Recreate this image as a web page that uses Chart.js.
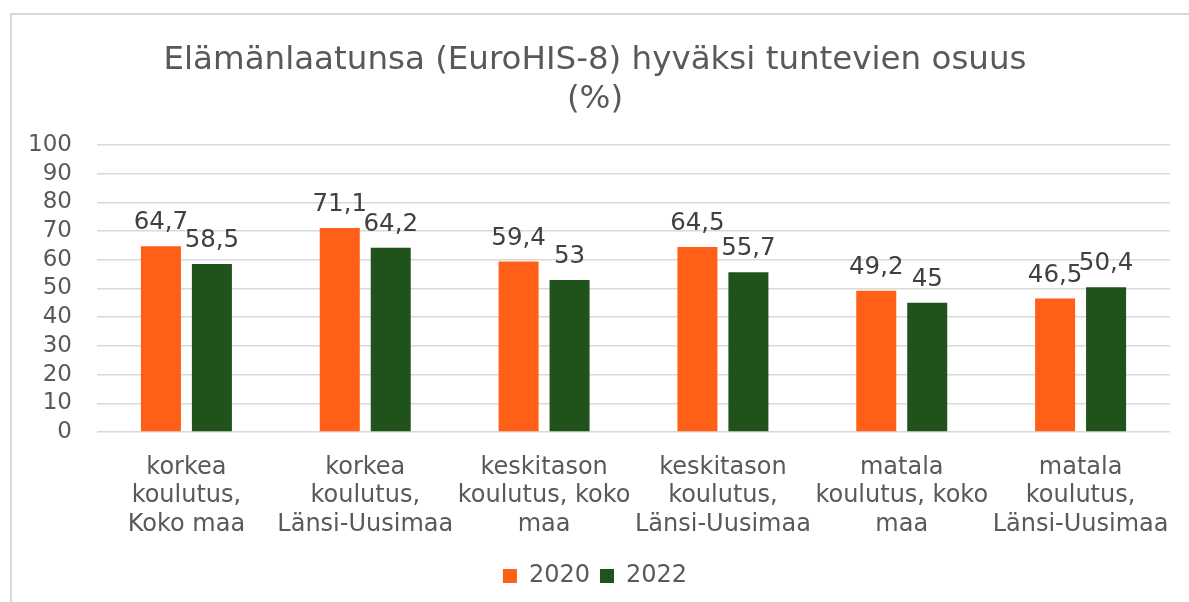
<!DOCTYPE html>
<html>
<head>
<meta charset="utf-8">
<script src="https://cdn.jsdelivr.net/npm/chart.js@4.4.1/dist/chart.umd.min.js"></script>
<style>
  html, body { margin: 0; padding: 0; background: #fff; }
  #wrap { position: relative; width: 1189px; height: 602px; overflow: hidden; }
  #frame { position: absolute; left: 10px; top: 13px; width: 1190px; height: 600px; border: 2px solid #d9d9d9; box-sizing: border-box; }
  canvas { position: absolute; left: 0; top: 0; }
</style>
</head>
<body>
<div id="wrap">
  <div id="frame"></div>
  <canvas id="chart" width="1189" height="602"></canvas>
</div>
<script>
// categories (wrapped as in the original)
var categories = [
  ["korkea", "koulutus,", "Koko maa"],
  ["korkea", "koulutus,", "Länsi-Uusimaa"],
  ["keskitason", "koulutus, koko", "maa"],
  ["keskitason", "koulutus,", "Länsi-Uusimaa"],
  ["matala", "koulutus, koko", "maa"],
  ["matala", "koulutus,", "Länsi-Uusimaa"]
];
var seriesNames = ["2020", "2022"];
var values2020 = [64.7, 71.1, 59.4, 64.5, 49.2, 46.5];
var values2022 = [58.5, 64.2, 53, 55.7, 45, 50.4];
var barColors = ["#ff5f17", "#1f531b"];
var titleLines = ["Elämänlaatunsa (EuroHIS-8) hyväksi tuntevien osuus", "(%)"];

var FONT = "'DejaVu Sans', Verdana, sans-serif";
Chart.defaults.font.family = FONT;
Chart.defaults.color = "#595959";

// value labels above bars, Finnish decimal comma
var valueLabels = {
  id: "valueLabels",
  afterDatasetsDraw: function (chart) {
    var ctx = chart.ctx;
    ctx.save();
    ctx.font = "24.5px " + FONT;
    ctx.fillStyle = "#404040";
    ctx.textAlign = "center";
    ctx.textBaseline = "alphabetic";
    chart.data.datasets.forEach(function (ds, i) {
      chart.getDatasetMeta(i).data.forEach(function (bar, j) {
        var txt = String(ds.data[j]).replace(".", ",");
        ctx.fillText(txt, bar.x, bar.y - 17);
      });
    });
    ctx.restore();
  }
};

new Chart("chart", {
  type: "bar",
  data: {
    labels: categories,
    datasets: [
      { label: seriesNames[0], data: values2020, backgroundColor: barColors[0] },
      { label: seriesNames[1], data: values2022, backgroundColor: barColors[1] }
    ]
  },
  options: {
    responsive: false,
    animation: false,
    categoryPercentage: 0.57,
    barPercentage: 0.785,
    layout: { padding: { top: 41, left: 20, right: 19, bottom: 4 } },
    plugins: {
      title: {
        display: true,
        text: titleLines,
        color: "#595959",
        font: { size: 32.5, weight: "normal", lineHeight: 1.2 },
        padding: { top: 0, bottom: 26 }
      },
      legend: {
        position: "bottom",
        labels: {
          boxWidth: 14,
          boxHeight: 14,
          padding: 10,
          color: "#595959",
          font: { size: 24 }
        }
      },
      tooltip: { enabled: false }
    },
    scales: {
      x: {
        grid: { display: false },
        border: { display: false },
        ticks: {
          color: "#595959",
          font: { size: 24, lineHeight: 1.2 },
          padding: 13,
          maxRotation: 0,
          autoSkip: false
        },
        afterFit: function (s) { s.height = 122; }
      },
      y: {
        min: 0,
        max: 100,
        grid: { color: "#d9d9d9", lineWidth: 1.5, drawTicks: false },
        border: { display: false },
        ticks: {
          stepSize: 10,
          autoSkip: false,
          color: "#595959",
          font: { size: 23 },
          padding: 25
        },
        afterFit: function (s) { s.width = 77; }
      }
    }
  },
  plugins: [valueLabels]
});
</script>
</body>
</html>
